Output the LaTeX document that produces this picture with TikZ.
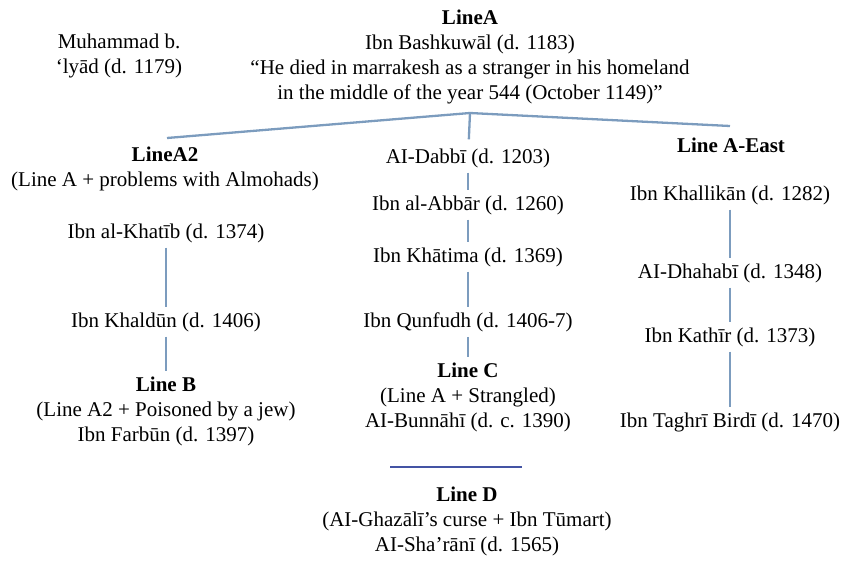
\documentclass[tikz,border=0pt]{standalone}
\usepackage{fontspec}
\setmainfont{Liberation Serif}
\usetikzlibrary{positioning}
\definecolor{linkblue}{RGB}{124,156,190}
\definecolor{rulenavy}{RGB}{68,84,164}
\tikzset{
x=1pt, y=-1pt, % one unit is one pixel of the sketch, y runs down
every node/.style={font=\fontsize{21}{25}\selectfont, align=center, inner xsep=0pt, inner ysep=5pt}, % plain serif text
link/.style={draw=linkblue, line width=2.3pt}, % the pale blue strokes
rule/.style={draw=rulenavy, line width=2.6pt}, % the dark bar above Line D
}

\begin{document}
\begin{tikzpicture}
        \useasboundingbox (0,0) rectangle (843,560);

        \node (lineA) at (470,57) {\textbf{LineA}\\Ibn Bashkuwāl (d. 1183)\\“He died in marrakesh as a stranger in his homeland\\in the middle of the year 544 (October 1149)”};
        \node (iyad) at (119,56) {Muhammad b.\\‘lyād (d. 1179)};

        % left branch
        \node (lineAtwo) at (165,169) {\textbf{LineA2}\\(Line A + problems with Almohads)};
        \node (khatib) at (166,233) {Ibn al-Khatīb (d. 1374)};
        \node (khaldun) at (166,322) {Ibn Khaldūn (d. 1406)};
        \node (lineB) at (166,411) {\textbf{Line B}\\(Line A2 + Poisoned by a jew)\\Ibn Farbūn (d. 1397)};

        % middle branch
        \node (dabbi) at (468,158) {AI-Dabbī (d. 1203)};
        \node (abbar) at (468,205) {Ibn al-Abbār (d. 1260)};
        \node (khatima) at (468,257) {Ibn Khātima (d. 1369)};
        \node (qunfudh) at (468,322) {Ibn Qunfudh (d. 1406-7)};
        \node (lineC) at (468,397) {\textbf{Line C}\\(Line A + Strangled)\\AI-Bunnāhī (d. c. 1390)};

        % right branch
        \node (east) at (731,145) {\textbf{Line A-East}};
        \node (khallikan) at (730,195) {Ibn Khallikān (d. 1282)};
        \node (dhahabi) at (730,273) {AI-Dhahabī (d. 1348)};
        \node (kathir) at (730,337) {Ibn Kathīr (d. 1373)};
        \node (taghri) at (730,422) {Ibn Taghrī Birdī (d. 1470)};

        \node (lineD) at (467,521) {\textbf{Line D}\\(AI-Ghazālī’s curse + Ibn Tūmart)\\AI-Sha’rānī (d. 1565)};

        \coordinate (forkTop) at (470,113);
        \coordinate (forkL) at (167,138);
        \coordinate (forkR) at (730,126);
        \coordinate (barL) at (390,467);
        \coordinate (barR) at (522,467);

        \draw[link] (forkL) -- (forkTop) -- (forkR);
        \draw[link, shorten >=4pt] (forkTop) -- (dabbi);
        \draw[link] (dabbi) edge (abbar)
        (abbar) edge (khatima)
        (khatima) edge (qunfudh)
        (qunfudh) edge (lineC)
        (khatib) edge (khaldun)
        (khaldun) edge (lineB)
        (khallikan) edge (dhahabi)
        (dhahabi) edge (kathir)
        (kathir) edge (taghri);
        \draw[rule] (barL) -- (barR);
      \end{tikzpicture}
\end{document}
